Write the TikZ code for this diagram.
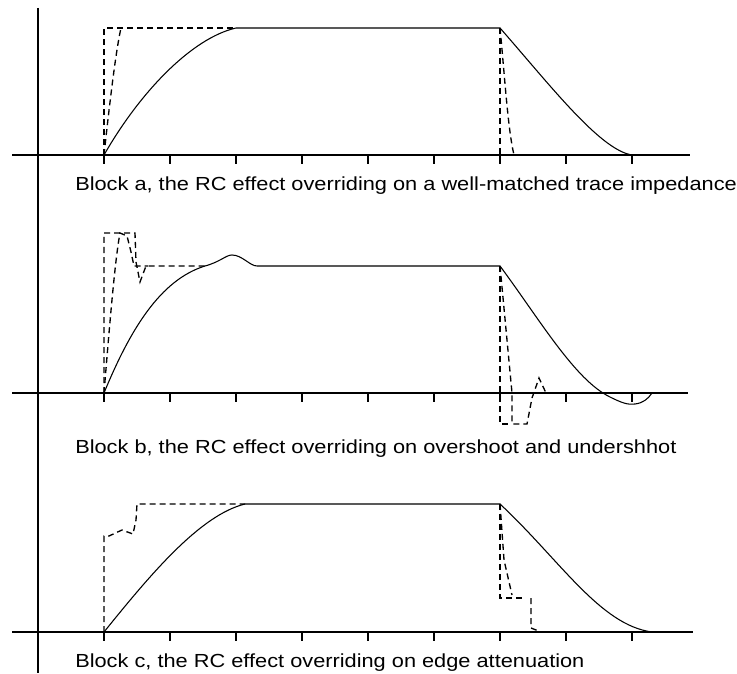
\documentclass[tikz,border=0pt]{standalone}
\usepackage{fontspec}
\newfontfamily\lblfont[FakeStretch=1.15]{Liberation Sans}
\usetikzlibrary{positioning}
\definecolor{inkBlack}{RGB}{0, 0, 0}

\begin{document}
\begin{tikzpicture}[x=0.75pt, y=-0.75pt,
    axisline/.style={line width=1.5pt, draw=inkBlack},
    tickline/.style={line width=1.2pt, draw=inkBlack},
    edge/.style={line width=0.8pt, draw=inkBlack},
    ringing/.style={line width=1pt, draw=inkBlack, dash pattern=on 4.5pt off 3pt},
    caption/.style={font=\lblfont\fontsize{14.2pt}{17pt}\selectfont, text=inkBlack, inner sep=0pt, anchor=base west}]
\useasboundingbox[fill=white] (0,0) rectangle (737,673);

% axes
\draw[axisline] (38,8) -- (38,673);
\foreach \ya/\xe in {155/690, 393/688, 632/693} {
  \draw[axisline] (12,\ya) -- (\xe,\ya);
  \foreach \xt in {104,170,...,632}
    \draw[tickline] (\xt,\ya) -- ++(0,9);
}

% block a
\draw[edge] (104,155) .. controls (140,92) and (192,38) .. (236,28) -- (500,28)
  .. controls (550,85) and (600,150) .. (632,155);
\draw[ringing] (104,155) -- (104,28) -- (236,28);
\draw[ringing] (104,155) .. controls (110,100) and (116,50) .. (121,28);
\draw[ringing] (500,28) -- (500,155);
\draw[ringing] (500,28) .. controls (505,80) and (508,130) .. (514,155);
\node[caption] (lblA) at (75,191) {Block a, the RC effect overriding on a well-matched trace impedance};

% block b
\draw[edge] (104,393) .. controls (130,330) and (160,280) .. (205,266)
  .. controls (220,262) and (226,255) .. (232,255)
  .. controls (242,255) and (250,266) .. (257,266) -- (500,266)
  .. controls (540,320) and (575,380) .. (610,397)
  .. controls (622,403) and (628,405) .. (635,404)
  .. controls (643,403) and (648,399) .. (652,393);
\draw[ringing] (104,393) -- (104,233) -- (135,233) -- (136,262) -- (140,282) -- (146,266) -- (205,266);
\draw[ringing] (104,393) .. controls (110,320) and (115,260) .. (120,233) -- (127,236) -- (131,252) -- (134,266) -- (148,266);
\draw[ringing] (500,266) -- (500,424) -- (512,424);
\draw[ringing] (500,266) -- (512,393) -- (512,424) -- (527,424) -- (532,398) -- (539,378) -- (546,393);
\node[caption] (lblB) at (75,453) {Block b, the RC effect overriding on overshoot and undershhot};

% block c
\draw[edge] (104,632) .. controls (150,575) and (200,515) .. (245,504) -- (500,504)
  .. controls (560,560) and (600,625) .. (652,632);
\draw[ringing] (104,632) -- (104,536) -- (109,536) -- (122,530) -- (133,534) -- (136,520) -- (137,504) -- (245,504);
\draw[ringing] (500,504) -- (500,598) -- (522,598);
\draw[ringing] (500,504) -- (504,560) -- (512,595);
\draw[ringing] (531,598) -- (531,628) -- (541,632);
\node[caption] (lblC) at (75,667) {Block c, the RC effect overriding on edge attenuation};
\end{tikzpicture}
\end{document}
